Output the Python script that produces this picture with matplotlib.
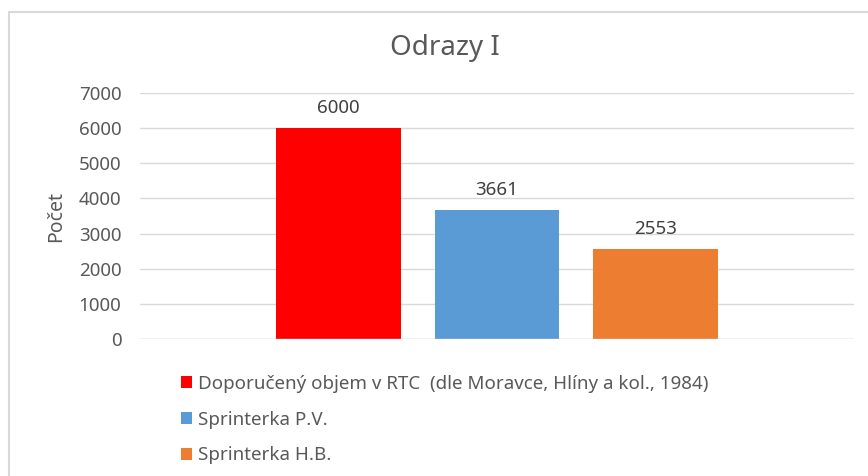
import matplotlib
matplotlib.use("Agg")
import matplotlib.pyplot as plt
from matplotlib.patches import Rectangle, Patch

plt.rcParams["font.family"] = ["Noto Sans", "DejaVu Sans"]

TITLE = "Odrazy I"
YLABEL = "Počet"
SERIES = ["Doporučený objem v RTC  (dle Moravce, Hlíny a kol., 1984)",
          "Sprinterka P.V.",
          "Sprinterka H.B."]
VALUES = [6000, 3661, 2553]
COLORS = ["#ff0000", "#5b9bd5", "#ed7d31"]
YTICKS = [0, 1000, 2000, 3000, 4000, 5000, 6000, 7000]

TXT = "#595959"
GRID = "#d9d9d9"

fig = plt.figure(figsize=(8.68, 4.76), dpi=100)
# chart frame
fig.patches.append(Rectangle((9 / 868, -0.1), 1.2, 1 - 12 / 476 + 0.1,
                             transform=fig.transFigure, fill=False,
                             edgecolor="#d9d9d9", linewidth=1.5))

ax = fig.add_axes([140 / 868, 1 - 339 / 476, 714 / 868, 246 / 476])
xs = range(len(VALUES))
bars = ax.bar(xs, VALUES, width=0.786, color=COLORS, zorder=3)
for x, v in zip(xs, VALUES):
    ax.annotate(f"{v}", (x, v), xytext=(0, 8), textcoords="offset points",
                ha="center", va="bottom", fontsize=13.5, color="#404040")

ax.set_xlim(-1.25, 3.25)
ax.set_ylim(0, 7000)
ax.set_yticks(YTICKS)
ax.set_xticks([])
ax.tick_params(axis="y", length=0, labelsize=13.5, labelcolor=TXT, pad=13.5)
ax.grid(axis="y", color=GRID, linewidth=1, zorder=0)
for s in ax.spines.values():
    s.set_visible(False)
ax.axhline(0, color=GRID, linewidth=1, zorder=4)
ax.set_ylabel(YLABEL, fontsize=14, color=TXT, labelpad=9)

fig.text(445 / 868, 1 - 48 / 476, TITLE, ha="center", va="center",
         fontsize=20, color=TXT)

handles = [Patch(facecolor=c) for c in COLORS]
fig.legend(handles, SERIES, loc="upper left", bbox_to_anchor=(164 / 868, 1 - 358 / 476),
           frameon=False, fontsize=13.5, labelcolor=TXT, handlelength=0.6,
           handleheight=0.6, handletextpad=0.3, labelspacing=0.95)

fig.savefig("out.png", dpi=100)
